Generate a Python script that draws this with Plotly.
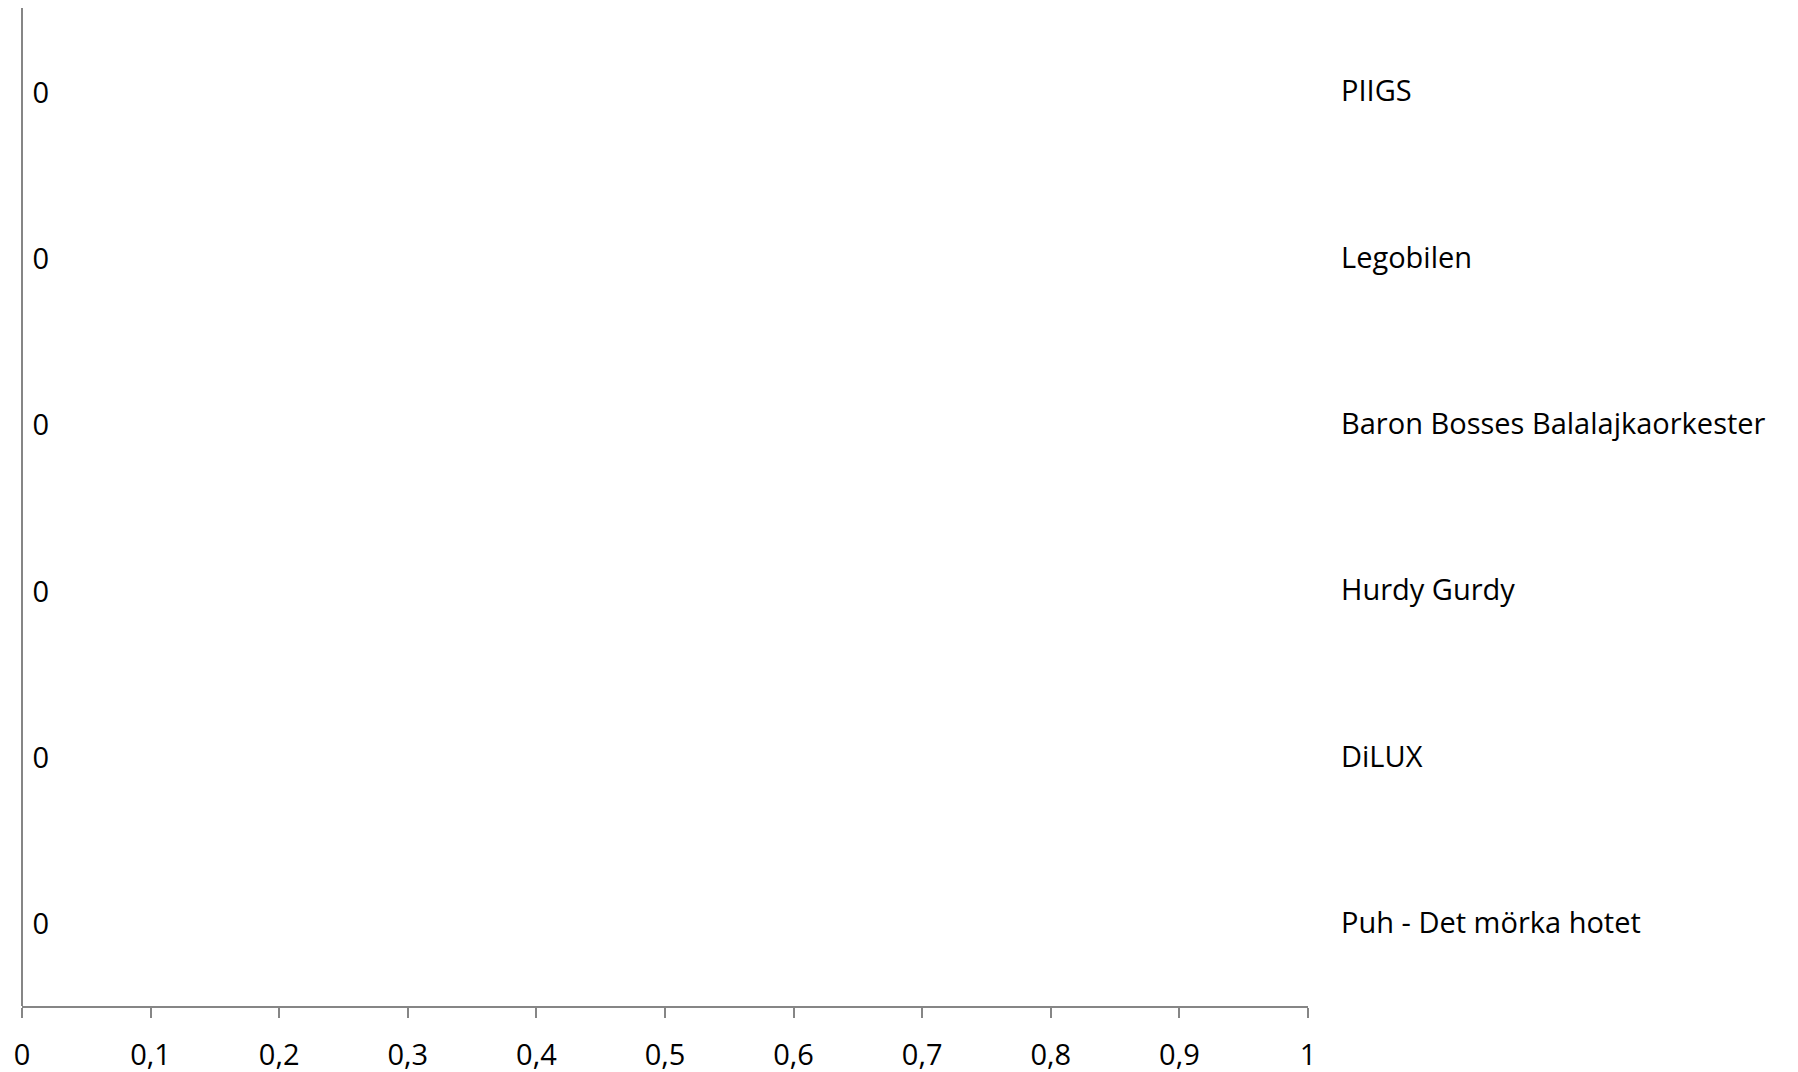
import plotly.graph_objects as go

categories = ["Puh - Det mörka hotet", "DiLUX", "Hurdy Gurdy",
              "Baron Bosses Balalajkaorkester", "Legobilen", "PIIGS"]
values = [0, 0, 0, 0, 0, 0]
x_ticks = [0, 0.1, 0.2, 0.3, 0.4, 0.5, 0.6, 0.7, 0.8, 0.9, 1]

FONT = "Open Sans"
AXIS = "#868686"
FS = 29

fig = go.Figure()
fig.add_trace(go.Bar(
    x=values, y=categories, orientation="h",
    marker_color="#4F81BD",
    texttemplate=" %{x}", textposition="outside",
    textfont=dict(family=FONT, size=FS, color="black"),
    cliponaxis=False, showlegend=False, hoverinfo="skip",
))

fig.update_layout(
    width=1790, height=1064,
    margin=dict(l=14, r=490, t=0, b=66, autoexpand=False),
    paper_bgcolor="white", plot_bgcolor="white",
    separators=", ",
    font=dict(family=FONT, size=FS, color="black"),
    showlegend=False,
)
fig.update_xaxes(
    range=[0, 1], tickvals=x_ticks, showgrid=False, zeroline=False,
    showline=True, linecolor=AXIS, linewidth=2, automargin=False,
    ticks="outside", ticklen=10, tickcolor=AXIS, tickwidth=2,
    tickfont=dict(family=FONT, size=FS, color="black"),
    ticklabelstandoff=12,
)
fig.update_yaxes(
    categoryorder="array", categoryarray=categories, automargin=False,
    side="right", showgrid=False, zeroline=False, showline=False,
    ticks="", ticklabelstandoff=32,
    tickfont=dict(family=FONT, size=FS, color="black"),
)
fig.add_shape(type="line", xref="paper", yref="paper", x0=0, x1=0, y0=0, y1=1,
              line=dict(color=AXIS, width=2))
fig.write_html("out.html")
